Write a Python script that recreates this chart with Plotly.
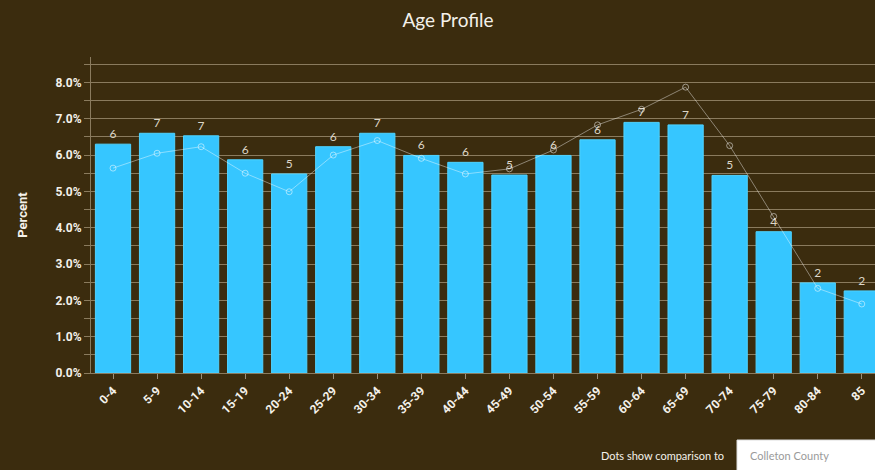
import plotly.graph_objects as go

categories = ["0-4", "5-9", "10-14", "15-19", "20-24", "25-29", "30-34", "35-39",
              "40-44", "45-49", "50-54", "55-59", "60-64", "65-69", "70-74",
              "75-79", "80-84", "85"]
area_pct = [6.30, 6.60, 6.53, 5.87, 5.48, 6.23, 6.60, 5.99, 5.80, 5.45, 5.99,
            6.42, 6.90, 6.83, 5.44, 3.89, 2.48, 2.26]
county_pct = [5.64, 6.05, 6.23, 5.50, 4.99, 6.00, 6.40, 5.91, 5.48, 5.62, 6.14,
              6.83, 7.26, 7.87, 6.26, 4.31, 2.33, 1.90]
y_ticks = [0, 1, 2, 3, 4, 5, 6, 7, 8]

BG = "#3b2c0e"
GRID = "#8a7b5e"
WHITE = "#f4f1ea"

W, H = 875, 470
ML, MR, MT, MB = 91, 0, 57, 97
PW, PH = W - ML - MR, H - MT - MB


def px_x(x):
    return (x - ML) / PW


def px_y(y):
    return (H - MB - y) / PH


fig = go.Figure()
fig.add_trace(go.Bar(
    x=categories, y=area_pct, width=0.8,
    marker=dict(color="#36c6ff", line=dict(color="#4fd3ff", width=1)),
    texttemplate="%{y:.0f}", textposition="outside", cliponaxis=False,
    textfont=dict(color="#ddd6c8", size=12, family="Lato"),
    showlegend=False,
))
fig.add_trace(go.Scatter(
    x=categories, y=county_pct, mode="lines+markers",
    line=dict(color="rgba(255,255,255,0.42)", width=1),
    marker=dict(symbol="circle-open", size=6, color="rgba(255,255,255,0.5)", line=dict(width=1)),
    showlegend=False, cliponaxis=False,
))

fig.update_layout(
    width=W, height=H,
    margin=dict(l=ML, r=MR, t=MT, b=MB),
    paper_bgcolor=BG, plot_bgcolor=BG,
    title=dict(text="Age Profile", x=448 / W, xanchor="center", y=1 - 20 / H, yanchor="middle",
               font=dict(color=WHITE, size=19, family="Lato")),
    bargap=0.2,
    font=dict(family="Roboto", color=WHITE),
)
fig.update_xaxes(
    range=[-0.5, 17.3], tickangle=-45, showline=True, linecolor=GRID, linewidth=1,
    ticks="outside", ticklen=5, tickcolor="#9a8f7a", showgrid=False,
    tickfont=dict(color=WHITE, size=12, family="Roboto", weight="bold"),
)
fig.update_yaxes(
    range=[0, 8.7], tickvals=y_ticks, ticktext=[f"{v:.1f}%" for v in y_ticks],
    showgrid=True, gridcolor=GRID, gridwidth=1, zeroline=False,
    showline=True, linecolor=GRID, linewidth=1,
    ticks="outside", ticklen=6, tickcolor=GRID,
    minor=dict(dtick=0.5, showgrid=True, gridcolor=GRID, ticks="outside", ticklen=6, tickcolor=GRID),
    tickfont=dict(color=WHITE, size=12, family="Roboto", weight="bold"),
    title=dict(text="Percent", font=dict(color=WHITE, size=13, family="Roboto", weight="bold"), standoff=24),
)

fig.add_shape(type="rect", xref="paper", yref="paper",
              x0=px_x(737), x1=px_x(880), y0=px_y(440), y1=px_y(475),
              fillcolor="#ffffff", line=dict(color="#dddddd", width=1), layer="above")
fig.add_annotation(text="Dots show comparison to", xref="paper", yref="paper",
                   x=px_x(726), y=px_y(455), xanchor="right", yanchor="middle", showarrow=False,
                   font=dict(color=WHITE, size=11, family="Lato"))
fig.add_annotation(text="Colleton County", xref="paper", yref="paper",
                   x=px_x(748), y=px_y(455), xanchor="left", yanchor="middle", showarrow=False,
                   font=dict(color="#9a9a9a", size=11, family="Lato"))

fig.write_html("out.html", config={"displayModeBar": False},
               post_script="document.body.style.margin='0';document.body.style.overflow='hidden';")
